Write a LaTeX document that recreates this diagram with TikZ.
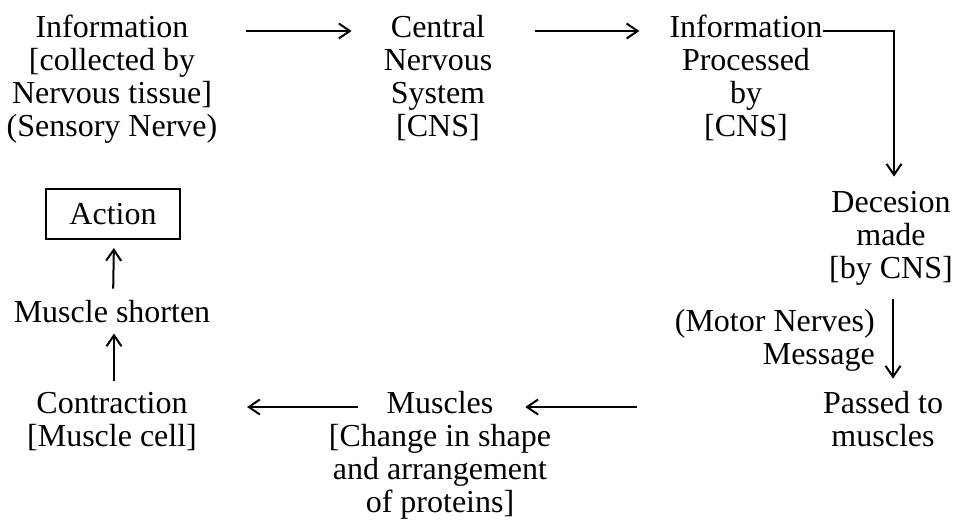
\documentclass[tikz,border=0pt]{standalone}
\usepackage{fontspec}
\setmainfont{Liberation Serif}
\usetikzlibrary{arrows.meta, calc}

\begin{document}
\begin{tikzpicture}[
    x=1pt, y=-1pt,
    >={Straight Barb[length=11pt, width=15pt]},
    txt/.style={
      align=center,
      inner sep=0pt,
      anchor=base,
      font=\fontsize{32}{33}\selectfont
    },
    flow/.style={->, line width=2pt},
    actbox/.style={draw, line width=2pt, minimum width=134pt, minimum height=50pt, inner sep=0pt, font=\fontsize{32}{33}\selectfont}
]
\useasboundingbox (0,0) rectangle (955,527);

% Baris atas (base = garis dasar baris terakhir)
\node[txt] (info) at (112,136) {Information\\{}[collected by\\Nervous tissue]\\(Sensory Nerve)};
\node[txt] (cns) at (438,136) {Central\\Nervous\\System\\{}[CNS]};
\node[txt] (proc) at (746,136) {Information\\Processed\\by\\{}[CNS]};

% Sisi kanan
\node[txt] (dec) at (891,278) {Decesion\\made\\{}[by CNS]};
\node[txt, align=right, anchor=base east] (msg) at (875,364) {(Motor Nerves)\\Message};
\node[txt] (passed) at (883,446) {Passed to\\muscles};

% Baris bawah
\node[txt] (muscles) at (440,512) {Muscles\\{}[Change in shape\\and arrangement\\of proteins]};
\node[txt] (contr) at (112,446) {Contraction\\{}[Muscle cell]};

% Sisi kiri
\node[txt] (short) at (112,322) {Muscle shorten};
\node[actbox] (action) at (113,214) {Action};

% Tinggi baris panah
\coordinate (r1) at (0,31);
\coordinate (r2) at (0,407);

% Panah
\draw[flow, shorten <=28pt, shorten >=32pt] (info.east |- r1) -- (cns.west |- r1);
\draw[flow, shorten <=43pt, shorten >=30pt] (cns.east |- r1) -- (proc.west |- r1);
\draw[flow, shorten >=14pt] (proc.east |- r1) -| ([xshift=3pt]dec.north);
\draw[flow, shorten <=14pt, shorten >=12pt] ([xshift=2pt]dec.south) -- ([xshift=2pt]dec.south |- passed.north);
\draw[flow, shorten <=186pt, shorten >=-26pt] (passed.west |- r2) -- (muscles.east |- r2);
\draw[flow, shorten <=-29pt, shorten >=50pt] (muscles.west |- r2) -- (contr.east |- r2);
\draw[flow, shorten <=11pt, shorten >=11pt] ([xshift=2pt]contr.north) -- ([xshift=2pt]short.south);
\draw[flow, shorten <=11pt, shorten >=8pt] ([xshift=1pt]short.north) -- ([xshift=1pt]action.south);

\end{tikzpicture}
\end{document}
